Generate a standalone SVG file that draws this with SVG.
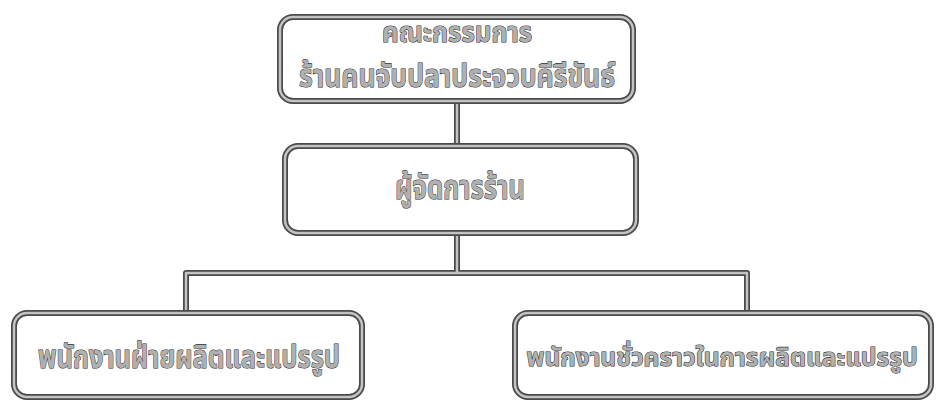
<svg xmlns="http://www.w3.org/2000/svg" width="936" height="403" viewBox="0 0 936 403">
  <style>
    .outer { fill: none; stroke: #4a4a4a; stroke-width: 6; stroke-linejoin: round; }
    .inner { fill: none; stroke: #c4c4c4; stroke-width: 2.5; stroke-linejoin: round; }
    .label { font-family: "Noto Sans Thai", "Noto Sans", "DejaVu Sans", sans-serif; font-weight: bold; fill: #b0b0b0; stroke: #2a2a2a; stroke-width: 1.1; paint-order: stroke; text-anchor: middle; }
  </style>
  <defs>
    <rect id="box1" x="280" y="17" width="353" height="84" rx="13"/>
    <rect id="box2" x="285" y="146" width="351" height="87" rx="13"/>
    <rect id="box3" x="14" y="313" width="348" height="84" rx="13"/>
    <rect id="box4" x="515" y="313" width="416" height="84" rx="13"/>
    <path id="links" d="M457 101 V146 M457 233 V273 M186 313 V273 H747 V313"/>
  </defs>
  <rect width="936" height="403" fill="#ffffff"/>

  <g id="connectors">
    <use href="#links" class="outer"/>
    <use href="#links" class="inner"/>
  </g>

  <g id="committee">
    <use href="#box1" class="outer"/>
    <use href="#box1" class="inner"/>
    <text class="label" x="457" y="42" font-size="28" textLength="150" lengthAdjust="spacingAndGlyphs">คณะกรรมการ</text>
    <text class="label" x="457" y="87" font-size="32" textLength="316" lengthAdjust="spacingAndGlyphs">ร้านคนจับปลาประจวบคีรีขันธ์</text>
  </g>

  <g id="manager">
    <use href="#box2" class="outer"/>
    <use href="#box2" class="inner"/>
    <text class="label" x="460" y="199" font-size="34" textLength="130" lengthAdjust="spacingAndGlyphs">ผู้จัดการร้าน</text>
  </g>

  <g id="production-staff">
    <use href="#box3" class="outer"/>
    <use href="#box3" class="inner"/>
    <text class="label" x="189" y="368" font-size="32" textLength="302" lengthAdjust="spacingAndGlyphs">พนักงานฝ่ายผลิตและแปรรูป</text>
  </g>

  <g id="temporary-staff">
    <use href="#box4" class="outer"/>
    <use href="#box4" class="inner"/>
    <text class="label" x="722" y="366" font-size="25" textLength="391" lengthAdjust="spacingAndGlyphs">พนักงานชั่วคราวในการผลิตและแปรรูป</text>
  </g>
</svg>
